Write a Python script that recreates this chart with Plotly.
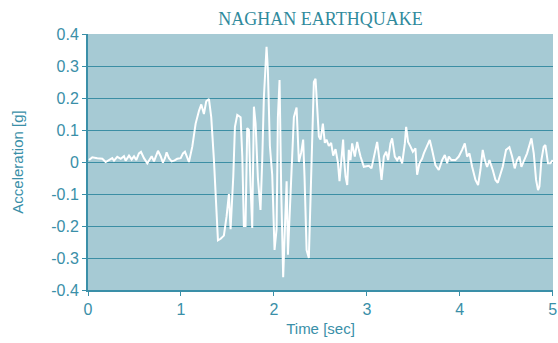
import plotly.graph_objects as go

# Time [sec]
time_s = [
    0.011, 0.046, 0.10, 0.154, 0.19, 0.226, 0.261, 0.28, 0.315, 0.352, 0.387, 0.405,
    0.441, 0.47, 0.495, 0.519, 0.548, 0.57, 0.602, 0.638, 0.663, 0.685, 0.71, 0.728,
    0.753, 0.782, 0.806, 0.828, 0.846, 0.871, 0.90, 0.932, 0.96, 0.997, 1.022, 1.043,
    1.068, 1.086, 1.122, 1.158, 1.194, 1.219, 1.247, 1.272, 1.301, 1.326, 1.355, 1.38,
    1.398, 1.427, 1.462, 1.491, 1.516, 1.534, 1.563, 1.581, 1.606, 1.642, 1.66, 1.677,
    1.695, 1.713, 1.731, 1.749, 1.767, 1.785, 1.803, 1.828, 1.856, 1.874, 1.892, 1.921,
    1.935, 1.957, 1.982, 2.007, 2.029, 2.043, 2.061, 2.079, 2.10, 2.118, 2.137, 2.151,
    2.172, 2.197, 2.215, 2.244, 2.269, 2.294, 2.315, 2.33, 2.352, 2.376, 2.394, 2.412,
    2.43, 2.448, 2.466, 2.484, 2.502, 2.527, 2.548, 2.566, 2.591, 2.616, 2.638, 2.663,
    2.688, 2.706, 2.724, 2.745, 2.753, 2.771, 2.789, 2.806, 2.824, 2.842, 2.871, 2.896,
    2.914, 2.932, 2.968, 3.022, 3.05, 3.086, 3.111, 3.136, 3.158, 3.183, 3.208, 3.229,
    3.254, 3.272, 3.301, 3.326, 3.351, 3.38, 3.409, 3.423, 3.444, 3.47, 3.495, 3.523,
    3.541, 3.566, 3.595, 3.613, 3.649, 3.677, 3.702, 3.738, 3.774, 3.81, 3.839, 3.864,
    3.882, 3.91, 3.953, 3.989, 4.025, 4.054, 4.079, 4.104, 4.133, 4.169, 4.197, 4.222,
    4.247, 4.269, 4.294, 4.319, 4.355, 4.384, 4.409, 4.437, 4.462, 4.498, 4.534, 4.563,
    4.591, 4.616, 4.642, 4.663, 4.688, 4.724, 4.771, 4.796, 4.821, 4.842, 4.857, 4.878,
    4.903, 4.921, 4.949, 4.975, 5.0,
]

# Acceleration [g]
accel_g = [
    0.006, 0.015, 0.012, 0.01, 0.0, 0.006, 0.012, 0.004, 0.016, 0.01, 0.018, 0.004,
    0.02, 0.008, 0.018, 0.006, 0.027, 0.032, 0.012, -0.004, 0.01, 0.018, 0.002, 0.018,
    0.035, 0.018, -0.002, 0.012, 0.03, 0.012, 0.002, 0.005, 0.01, 0.012, 0.027, 0.032,
    0.01, 0.0, 0.048, 0.12, 0.16, 0.18, 0.15, 0.19, 0.197, 0.14, 0.006, -0.17,
    -0.245, -0.24, -0.23, -0.17, -0.1, -0.21, -0.046, 0.11, 0.147, 0.14, 0.017, -0.2,
    -0.2, 0.106, 0.1, -0.077, -0.206, 0.173, 0.12, -0.05, -0.15, 0.0, 0.2, 0.36,
    0.29, 0.05, -0.04, -0.275, -0.21, 0.14, 0.256, -0.09, -0.36, -0.21, -0.06, -0.29,
    -0.13, 0.0, 0.14, 0.17, 0.0, 0.03, 0.07, -0.05, -0.275, -0.30, -0.12, 0.10,
    0.25, 0.26, 0.17, 0.08, 0.07, 0.12, 0.06, 0.07, 0.05, 0.06, 0.02, 0.04,
    0.0, -0.06, 0.0, 0.07, 0.017, -0.046, -0.072, 0.038, 0.006, 0.058, 0.017, 0.063,
    0.038, 0.017, -0.015, -0.012, -0.02, 0.027, 0.063, 0.006, -0.056, 0.017, 0.032, 0.006,
    0.058, 0.074, 0.017, 0.006, 0.017, -0.004, 0.058, 0.11, 0.063, 0.048, 0.032, 0.043,
    -0.04, -0.004, 0.011, 0.027, 0.048, 0.069, 0.038, -0.01, -0.025, 0.006, 0.022, -0.004,
    0.017, 0.006, 0.006, 0.017, 0.038, 0.058, 0.017, 0.027, -0.015, -0.056, -0.072, -0.025,
    0.038, 0.006, -0.015, 0.006, -0.025, -0.056, -0.065, -0.035, -0.015, 0.038, 0.046, 0.017,
    -0.02, 0.006, 0.017, -0.015, 0.001, 0.027, 0.074, 0.027, -0.056, -0.088, -0.077, 0.006,
    0.048, 0.053, -0.004, -0.004, 0.006,
]

x_tick_values = [0, 1, 2, 3, 4, 5]
x_tick_labels = ["0", "1", "2", "3", "4", "5"]
y_tick_values = [0.4, 0.3, 0.2, 0.1, 0, -0.1, -0.2, -0.3, -0.4]
y_tick_labels = ["0.4", "0.3", "0.2", "0.1", "0", "-0.1", "-0.2", "-0.3", "-0.4"]

TEAL = "#3a8fa8"
GRID = "#3b8ea4"
BG = "#a6cad4"

fig = go.Figure()
fig.add_trace(go.Scatter(
    x=time_s, y=accel_g, mode="lines",
    line=dict(color="white", width=2),
    showlegend=False, hoverinfo="skip",
))

fig.update_layout(
    width=558, height=343,
    margin=dict(l=88, r=5, t=34, b=53),
    paper_bgcolor="white",
    plot_bgcolor=BG,
    title=dict(
        text="NAGHAN EARTHQUAKE",
        font=dict(family="Liberation Serif", size=18, color="#2f8a9c"),
        xref="paper", x=0.5, xanchor="center",
        yref="container", y=0.945, yanchor="middle",
    ),
    xaxis=dict(
        range=[0, 5.003], tickvals=x_tick_values, ticktext=x_tick_labels,
        showgrid=False, zeroline=False,
        showline=True, linecolor=TEAL, linewidth=2,
        ticks="outside", ticklen=4, tickcolor=TEAL, tickwidth=1,
        ticklabeloverflow="allow",
        tickfont=dict(family="Liberation Sans", size=16, color=TEAL),
        title=dict(text="Time [sec]", standoff=6,
                   font=dict(family="Liberation Sans", size=15, color=TEAL)),
        automargin=False,
    ),
    yaxis=dict(
        range=[-0.4, 0.4], tickvals=y_tick_values, ticktext=y_tick_labels,
        showgrid=True, gridcolor=GRID, gridwidth=1.2, zeroline=False,
        showline=True, linecolor=TEAL, linewidth=2,
        ticks="outside", ticklen=4, tickcolor=TEAL, tickwidth=1,
        tickfont=dict(family="Liberation Sans", size=16, color=TEAL),
        title=dict(text="Acceleration [g]", standoff=24,
                   font=dict(family="Liberation Sans", size=15, color=TEAL)),
        automargin=False,
    ),
)

# remove the browser's default 8 px body margin so the figure fills the window exactly
fig.write_html(
    "out.html",
    config={"displayModeBar": False},
    post_script="document.body.style.margin='0';",
)
